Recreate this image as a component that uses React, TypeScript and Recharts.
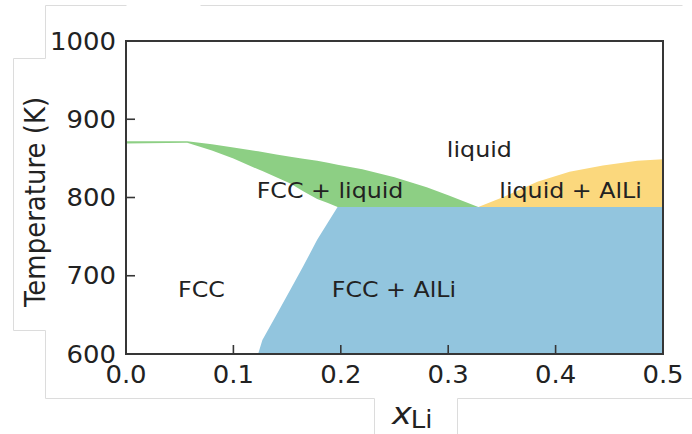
import React from 'react';
import { ComposedChart, Area, XAxis, YAxis, ReferenceArea, ReferenceDot } from 'recharts';

// Al–Li phase diagram (Al-rich side): composition grid and phase boundaries in K
const xLi = [0, 0.057, 0.08, 0.1, 0.123, 0.127, 0.14, 0.153, 0.165, 0.178, 0.188, 0.197, 0.22, 0.25, 0.28, 0.3, 0.328, 0.352, 0.383, 0.413, 0.444, 0.476, 0.5];
const fccLiquidus = [872, 872, 868, 864, 859, 858, 855, 852, 849.5, 847, 844.5, 842, 836, 826, 813, 803, 788, null, null, null, null, null, null];
const fccSolidus = [869, 870, 860, 850, 836, 834, 826, 818, 808, 798, 793, 788, 788, 788, 788, 788, 788, null, null, null, null, null, null];
const fccSolvus = [null, null, null, null, 600, 618, 650, 682, 712, 746, 768, 788, 788, 788, 788, 788, 788, 788, 788, 788, 788, 788, 788];
const alliLiquidus = [null, null, null, null, null, null, null, null, null, null, null, null, null, null, null, null, 788, 801, 820, 833, 841, 847, 849];
const eutecticT = 788;
const minT = 600;

const xTicks = [0, 0.1, 0.2, 0.3, 0.4, 0.5];
const yTicks = [600, 700, 800, 900, 1000];

const phaseLabels = [
  { text: 'liquid', x: 0.329, T: 861.5 },
  { text: 'FCC + liquid', x: 0.19, T: 808.7 },
  { text: 'liquid + AlLi', x: 0.414, T: 809 },
  { text: 'FCC', x: 0.0703, T: 683 },
  { text: 'FCC + AlLi', x: 0.2495, T: 683 },
];

const rows = xLi.map((x, i) => ({
  x,
  fccLiquid: fccLiquidus[i] != null ? [fccSolidus[i], fccLiquidus[i]] : null,
  fccAlLi: fccSolvus[i] != null ? [minT, fccSolvus[i]] : null,
  liquidAlLi: alliLiquidus[i] != null ? [eutecticT, alliLiquidus[i]] : null,
}));

const FONT = '"DejaVu Sans", sans-serif';
const AXIS_COLOR = '#363636';
const TEXT_COLOR = '#222222';
const SX = 1.08;

function XTick(props: any) {
  const { x, y, payload } = props;
  return (
    <g>
      <line x1={x} x2={x} y1={y} y2={y - 9} stroke={AXIS_COLOR} strokeWidth={1.6} />
      <text
        transform={`translate(${x},${y + 29}) scale(${SX},1)`}
        textAnchor="middle"
        fontSize={24}
        fontFamily={FONT}
        fill={TEXT_COLOR}
      >
        {Number(payload.value).toFixed(1)}
      </text>
    </g>
  );
}

function YTick(props: any) {
  const { x, y, payload } = props;
  return (
    <g>
      <line x1={x} x2={x + 9} y1={y} y2={y} stroke={AXIS_COLOR} strokeWidth={1.6} />
      <text
        transform={`translate(${x - 10},${y + 8.7}) scale(${SX},1)`}
        textAnchor="end"
        fontSize={24}
        fontFamily={FONT}
        fill={TEXT_COLOR}
      >
        {payload.value}
      </text>
    </g>
  );
}

function YTitle(props: any) {
  const vb = props.viewBox;
  const cx = vb.x + 35;
  const cy = vb.y + 161;
  return (
    <text
      transform={`translate(${cx},${cy}) scale(${SX},1) rotate(-90)`}
      textAnchor="middle"
      dominantBaseline="central"
      fontSize={26}
      fontFamily={FONT}
      fill={TEXT_COLOR}
    >
      Temperature (K)
    </text>
  );
}

function XTitle(props: any) {
  const vb = props.viewBox;
  return (
    <text
      transform={`translate(${vb.x + 266},${vb.y + 70}) scale(${SX},1)`}
      fontFamily={FONT}
      fill={TEXT_COLOR}
    >
      <tspan fontStyle="italic" fontSize={31}>x</tspan>
      <tspan fontSize={24} dy={4} dx={-1}>Li</tspan>
    </text>
  );
}

function phaseLabel(text: string) {
  return (props: any) => {
    const vb = props.viewBox;
    const cx = vb.x + (vb.width || 0) / 2;
    const cy = vb.y + (vb.height || 0) / 2;
    return (
      <text
        transform={`translate(${cx},${cy}) scale(${SX},1)`}
        textAnchor="middle"
        dominantBaseline="central"
        fontSize={22}
        fontFamily={FONT}
        fill={TEXT_COLOR}
      >
        {text}
      </text>
    );
  };
}

// light panel outlines around the figure
const panelLines: [number, number, number, number][] = [
  [45, 5, 126, 5],
  [200, 5, 682, 5],
  [45, 5, 45, 58],
  [13, 58, 45, 58],
  [13, 58, 13, 330],
  [13, 330, 45, 330],
  [45, 330, 45, 398],
  [45, 398, 374, 398],
  [374, 398, 374, 434],
  [457, 398, 457, 434],
  [457, 398, 692, 398],
];

export default function App() {
  return (
    <div style={{ position: 'absolute', left: 0, top: 0, width: 692, height: 434, background: '#ffffff' }}>
      <svg width={692} height={434} style={{ position: 'absolute', left: 0, top: 0 }}>
        {panelLines.map(([x1, y1, x2, y2], i) => (
          <line key={i} x1={x1 + 0.5} y1={y1 + 0.5} x2={x2 + 0.5} y2={y2 + 0.5} stroke="#dcdcdc" strokeWidth={1} />
        ))}
      </svg>
      <div style={{ position: 'absolute', left: 0, top: 0 }}>
        <ComposedChart width={692} height={434} data={rows} margin={{ top: 41, right: 29, bottom: 0, left: 0 }}>
          <XAxis
            dataKey="x"
            type="number"
            domain={[0, 0.5]}
            ticks={xTicks}
            interval={0}
            allowDataOverflow
            axisLine={false}
            tickLine={false}
            tickSize={0}
            tickMargin={0}
            height={80}
            tick={<XTick />}
            label={<XTitle />}
          />
          <YAxis
            type="number"
            domain={[600, 1000]}
            ticks={yTicks}
            interval={0}
            allowDataOverflow
            axisLine={false}
            tickLine={false}
            tickSize={0}
            tickMargin={0}
            width={126}
            tick={<YTick />}
            label={<YTitle />}
          />
          <Area
            dataKey="fccLiquid"
            type="linear"
            stroke="none"
            fill="#8dcf84"
            fillOpacity={1}
            dot={false}
            activeDot={false}
            isAnimationActive={false}
          />
          <Area
            dataKey="fccAlLi"
            type="linear"
            stroke="none"
            fill="#92c5de"
            fillOpacity={1}
            dot={false}
            activeDot={false}
            isAnimationActive={false}
          />
          <Area
            dataKey="liquidAlLi"
            type="linear"
            stroke="none"
            fill="#fbd87d"
            fillOpacity={1}
            dot={false}
            activeDot={false}
            isAnimationActive={false}
          />
          <ReferenceArea x1={0} x2={0.5} y1={600} y2={1000} fill="none" stroke={AXIS_COLOR} strokeWidth={2} />
          {phaseLabels.map((p) => (
            <ReferenceDot key={p.text} x={p.x} y={p.T} r={0} fill="none" stroke="none" label={phaseLabel(p.text)} />
          ))}
        </ComposedChart>
      </div>
    </div>
  );
}
